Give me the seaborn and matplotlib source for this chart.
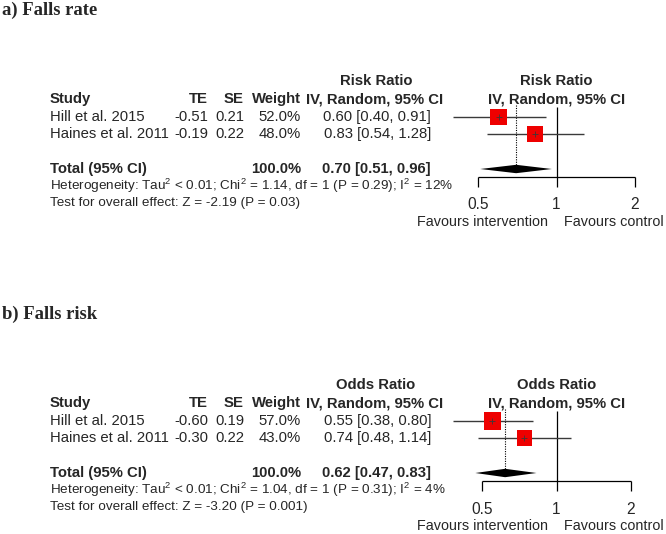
import numpy as np
import pandas as pd
import matplotlib
matplotlib.use("Agg")
import matplotlib.pyplot as plt
import seaborn as sns

# ---------------- data ----------------
studies = ["Hill et al. 2015", "Haines et al. 2011"]

a_title = "a) Falls rate"
a_measure = "Risk Ratio"
a_te = [-0.51, -0.19]
a_se = [0.21, 0.22]
a_weight = [52.0, 48.0]
a_est = [0.60, 0.83]
a_lo = [0.40, 0.54]
a_hi = [0.91, 1.28]
a_total = [0.70, 0.51, 0.96]
a_het = ["< 0.01", "1.14", "1", "0.29", "12%"]
a_test = ["-2.19", "0.03"]

b_title = "b) Falls risk"
b_measure = "Odds Ratio"
b_te = [-0.60, -0.30]
b_se = [0.19, 0.22]
b_weight = [57.0, 43.0]
b_est = [0.55, 0.74]
b_lo = [0.38, 0.48]
b_hi = [0.80, 1.14]
b_total = [0.62, 0.47, 0.83]
b_het = ["< 0.01", "1.04", "1", "0.31", "4%"]
b_test = ["-3.20", "0.001"]

axis_ticks = [0.5, 1, 2]
axis_tick_labels = ["0.5", "1", "2"]

# ---------------- style ----------------
sns.set_style("white")
plt.rcParams["font.family"] = ["Liberation Sans", "DejaVu Sans"]
plt.rcParams["mathtext.fontset"] = "custom"
plt.rcParams["mathtext.rm"] = "Liberation Sans"

W, H = 666, 534
fig = plt.figure(figsize=(W / 100, H / 100), dpi=100)
tax = fig.add_axes([0, 0, 1, 1])
tax.set_xlim(0, W)
tax.set_ylim(H, 0)
tax.set_axis_off()

FS = 10.7
FS_NOTE = 9.7
FS_AX = 10.4
LINE = "#3a3a3a"


def draw_panel(y0, title, measure, te, se, weight, est, lo, hi, total, het, test,
               x_half, x_two):
    # y0: pixel offset of the panel (panel a = 0)
    tax.text(2, y0 + 10, title, family="Liberation Serif", weight="bold",
             fontsize=13.4, va="center", ha="left")
    yh1, yh2 = y0 + 81, y0 + 99
    rows = [y0 + 117, y0 + 134]
    ytot = y0 + 169
    # left table
    tax.text(376, yh1, measure, weight="bold", fontsize=FS, ha="center", va="center")
    tax.text(50, yh2, "Study", weight="bold", fontsize=FS, ha="left", va="center")
    tax.text(208, yh2, "TE", weight="bold", fontsize=FS, ha="right", va="center")
    tax.text(244, yh2, "SE", weight="bold", fontsize=FS, ha="right", va="center")
    tax.text(301, yh2, "Weight", weight="bold", fontsize=FS, ha="right", va="center")
    tax.text(375, yh2, "IV, Random, 95% CI", weight="bold", fontsize=FS,
             ha="center", va="center")
    for i, y in enumerate(rows):
        tax.text(50, y, studies[i], fontsize=FS, ha="left", va="center")
        tax.text(208, y, f"{te[i]:.2f}", fontsize=FS, ha="right", va="center")
        tax.text(244, y, f"{se[i]:.2f}", fontsize=FS, ha="right", va="center")
        tax.text(301, y, f"{weight[i]:.1f}%", fontsize=FS, ha="right", va="center")
        tax.text(431, y, f"{est[i]:.2f} [{lo[i]:.2f}, {hi[i]:.2f}]", fontsize=FS,
                 ha="right", va="center")
    tax.text(50, ytot, "Total (95% CI)", weight="bold", fontsize=FS, ha="left", va="center")
    tax.text(301, ytot, f"{sum(weight):.1f}%", weight="bold", fontsize=FS,
             ha="right", va="center")
    tax.text(431, ytot, f"{total[0]:.2f} [{total[1]:.2f}, {total[2]:.2f}]",
             weight="bold", fontsize=FS, ha="right", va="center")
    tax.text(50, y0 + 186,
             r"Heterogeneity: Tau$^\mathregular{2}$ " + het[0] +
             r"; Chi$^\mathregular{2}$ = " + het[1] + ", df = " + het[2] +
             " (P = " + het[3] + r"); I$^\mathregular{2}$ = " + het[4],
             fontsize=FS_NOTE, ha="left", va="center")
    tax.text(50, y0 + 203, f"Test for overall effect: Z = {test[0]} (P = {test[1]})",
             fontsize=FS_NOTE, ha="left", va="center")
    tax.text(548, y0 + 222, "Favours intervention", fontsize=FS_AX, ha="right", va="center")
    tax.text(564, y0 + 222, "Favours control", fontsize=FS_AX, ha="left", va="center")

    # forest axes: x on log scale, y in pixel units
    left_px, right_px = 380, 666
    top_px, bot_px = y0 + 40, y0 + 230
    ax = fig.add_axes([left_px / W, 1 - bot_px / H, (right_px - left_px) / W,
                       (bot_px - top_px) / H])
    k = (x_two - x_half) / 2.0  # pixels per log2 unit
    x_one = x_half + k
    ax.set_xscale("log")
    xlim = (2 ** ((left_px - x_one) / k), 2 ** ((right_px - x_one) / k))
    ax.patch.set_alpha(0)

    ax.text(1, yh1, measure, weight="bold", fontsize=FS, ha="center", va="center")
    ax.text(1, yh2, "IV, Random, 95% CI", weight="bold", fontsize=FS,
            ha="center", va="center")

    yaxis = y0 + 177
    ytick = y0 + 187
    # reference line at 1 and axis
    ax.vlines(1, y0 + 107, ytick, color="black", lw=0.9)
    ax.hlines(yaxis, axis_ticks[0], axis_ticks[-1], color="black", lw=0.9)
    ax.vlines([axis_ticks[0], axis_ticks[-1]], yaxis, ytick, color="black", lw=0.9)
    for t, lab in zip(axis_ticks, axis_tick_labels):
        ax.text(t, y0 + 205, lab, fontsize=11.2, ha="center", va="center")
    # pooled dotted line
    ax.vlines(total[0], y0 + 105, ytot, color="black", lw=0.8, linestyles=(0, (1.0, 1.2)))
    # whiskers
    ax.hlines(rows, lo, hi, color=LINE, lw=1.0, zorder=2)
    # squares
    df = pd.DataFrame({"est": est, "y": rows, "w": weight})
    sns.scatterplot(data=df, x="est", y="y", size="w", size_norm=(0, 100),
                    sizes=(0, 275), marker="s", color="#ee0000", linewidth=0,
                    legend=False, ax=ax, zorder=3)
    ax.scatter(est, rows, marker="+", s=22, c=LINE, linewidths=0.6, zorder=4)
    # diamond
    hd = 4.2
    ax.fill([total[1], total[0], total[2], total[0]],
            [ytot, ytot - hd, ytot, ytot + hd], color="black", lw=0, zorder=3)
    ax.set_axis_off()
    ax.set_xlim(*xlim)
    ax.set_ylim(bot_px, top_px)


draw_panel(0, a_title, a_measure, a_te, a_se, a_weight, a_est, a_lo, a_hi,
           a_total, a_het, a_test, 478, 635)
draw_panel(304, b_title, b_measure, b_te, b_se, b_weight, b_est, b_lo, b_hi,
           b_total, b_het, b_test, 482, 631)

fig.savefig("out.png", dpi=100)
